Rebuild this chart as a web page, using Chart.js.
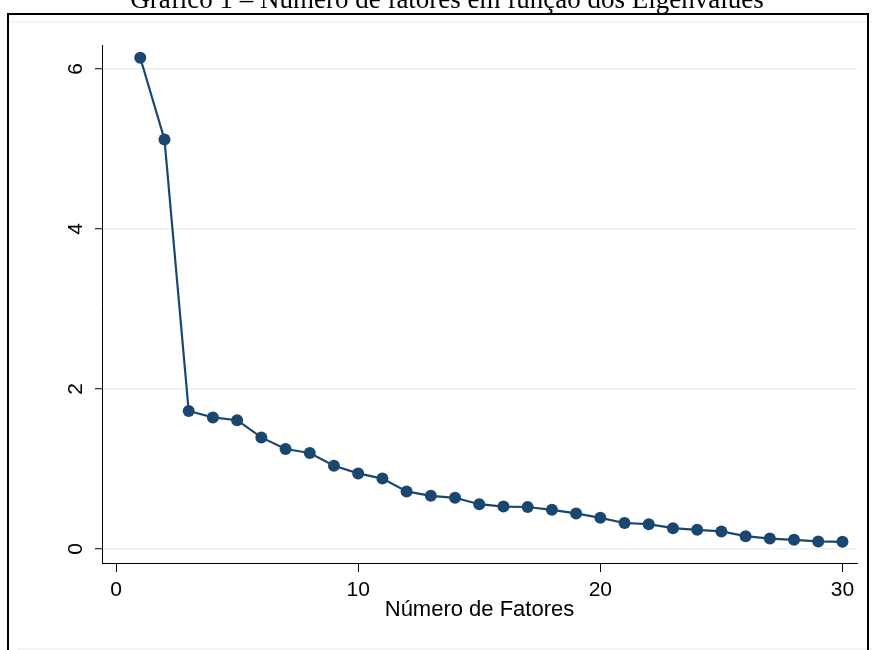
<!DOCTYPE html>
<html>
<head>
<meta charset="utf-8">
<script src="https://cdn.jsdelivr.net/npm/chart.js@4/dist/chart.umd.min.js"></script>
<style>
  html, body { margin: 0; padding: 0; background: #fff; overflow: hidden; }
</style>
</head>
<body>
<canvas id="grafico" width="872" height="650"></canvas>
<script>
// dados
const fatores = [1, 2, 3, 4, 5, 6, 7, 8, 9, 10, 11, 12, 13, 14, 15, 16, 17, 18, 19, 20, 21, 22, 23, 24, 25, 26, 27, 28, 29, 30];
const eigenvalues = [6.14, 5.12, 1.725, 1.645, 1.61, 1.395, 1.25, 1.20, 1.04, 0.945, 0.88, 0.72, 0.665, 0.64, 0.56, 0.53, 0.525, 0.49, 0.445, 0.39, 0.325, 0.31, 0.26, 0.24, 0.22, 0.16, 0.13, 0.115, 0.095, 0.09];
const xTicks = [0, 10, 20, 30];
const yTicks = [0, 2, 4, 6];
const titulo = 'Gráfico 1 – Número de fatores em função dos Eigenvalues';
const tituloEixoX = 'Número de Fatores';

const navy = '#1a476f';
const gridCor = '#eaf0f3';
const sans = '"Liberation Sans", Arial, sans-serif';

// moldura, titulo e rotulos (estilo Stata)
const moldura = {
    id: 'moldura',
    beforeDraw(chart) {
        const ctx = chart.ctx;
        ctx.save();
        ctx.fillStyle = '#fff';
        ctx.fillRect(0, 0, chart.width, chart.height);

        // linhas claras da regiao do grafico
        ctx.strokeStyle = '#eef2f4';
        ctx.lineWidth = 1.5;
        ctx.beginPath();
        ctx.moveTo(10, 22); ctx.lineTo(872, 22);
        ctx.moveTo(17, 649); ctx.lineTo(872, 649);
        ctx.stroke();

        // borda preta
        ctx.strokeStyle = '#000';
        ctx.lineWidth = 2;
        ctx.beginPath();
        ctx.moveTo(8, 660); ctx.lineTo(8, 14); ctx.lineTo(868, 14); ctx.lineTo(868, 660);
        ctx.stroke();

        // titulo (cortado no topo)
        ctx.fillStyle = '#000';
        ctx.font = '27px "Liberation Serif", "Times New Roman", serif';
        ctx.textAlign = 'center';
        ctx.textBaseline = 'alphabetic';
        ctx.fillText(titulo, 447, 8);
        ctx.restore();
    },
    afterDraw(chart) {
        const ctx = chart.ctx;
        const xs = chart.scales.x, ys = chart.scales.y;
        ctx.save();
        ctx.fillStyle = '#000';
        ctx.font = '21px ' + sans;
        ctx.textAlign = 'center';
        ctx.textBaseline = 'middle';

        // rotulos do eixo y, girados
        yTicks.forEach(v => {
            ctx.save();
            ctx.translate(76, ys.getPixelForValue(v));
            ctx.rotate(-Math.PI / 2);
            ctx.fillText(String(v), 0, 0);
            ctx.restore();
        });

        // rotulos do eixo x
        xTicks.forEach(v => {
            ctx.fillText(String(v), xs.getPixelForValue(v), 590);
        });

        ctx.font = '22px ' + sans;
        ctx.fillText(tituloEixoX, (xs.left + xs.right) / 2, 610);
        ctx.restore();
    }
};

new Chart(document.getElementById('grafico').getContext('2d'), {
    type: 'line',
    data: {
        datasets: [{
            data: fatores.map((f, i) => ({ x: f, y: eigenvalues[i] })),
            borderColor: navy,
            backgroundColor: navy,
            borderWidth: 2.2,
            pointRadius: 6,
            pointBorderWidth: 0,
            pointBackgroundColor: navy,
            tension: 0,
            clip: false
        }]
    },
    options: {
        responsive: false,
        animation: false,
        layout: { padding: { top: 45, left: 0, right: 15, bottom: 0 } },
        plugins: {
            legend: { display: false },
            tooltip: { enabled: false }
        },
        scales: {
            x: {
                type: 'linear',
                min: -0.58,
                max: 30.6,
                afterBuildTicks: s => { s.ticks = xTicks.map(v => ({ value: v })); },
                afterFit: s => { s.height = 87; },
                ticks: { display: false },
                grid: { drawOnChartArea: false, tickLength: 9, tickColor: '#000', lineWidth: 1 },
                border: { color: '#000', width: 1 }
            },
            y: {
                min: -0.175,
                max: 6.3,
                afterBuildTicks: s => { s.ticks = yTicks.map(v => ({ value: v })); },
                afterFit: s => { s.width = 102; },
                ticks: { display: false },
                grid: { color: gridCor, lineWidth: 1.5, tickLength: 7, tickColor: '#000', tickWidth: 1 },
                border: { color: '#000', width: 1 }
            }
        }
    },
    plugins: [moldura]
});
</script>
</body>
</html>
